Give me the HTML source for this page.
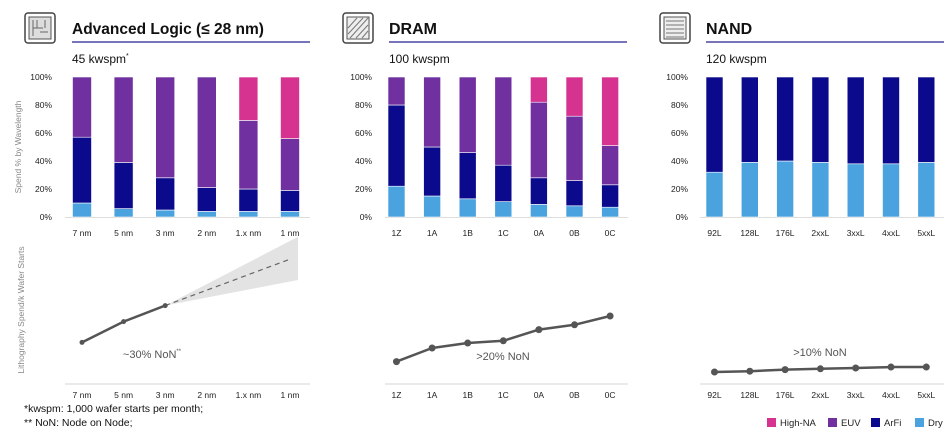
<!DOCTYPE html>
<html><head><meta charset="utf-8">
<style>
html,body{margin:0;padding:0;background:#fff;}
body{width:948px;height:437px;overflow:hidden;font-family:"Liberation Sans",Arial,sans-serif;}
svg text{font-family:"Liberation Sans",Arial,sans-serif;}
</style></head>
<body>
<svg id="chart" width="948" height="437" viewBox="0 0 948 437" xmlns="http://www.w3.org/2000/svg">
  <g>
    <rect x="25" y="13" width="30" height="30" rx="3" fill="none" stroke="#444" stroke-width="1.5"/>
    <rect x="29" y="17" width="22" height="22" fill="#ddd" stroke="#555" stroke-width="1"/>
    <path d="M33 20v16M37 20v8h6M40 32h8M45 20v8M33 28h4" stroke="#666" stroke-width="1" fill="none"/>
  </g>
  <g>
    <rect x="343" y="13" width="30" height="30" rx="3" fill="none" stroke="#444" stroke-width="1.5"/>
    <rect x="347" y="17" width="22" height="22" fill="#eee" stroke="#555" stroke-width="1"/>
    <path d="M348 28l9-10M348 34l15-16M350 38l18-20M356 38l12-13M362 38l6-7" stroke="#777" stroke-width="1" fill="none"/>
  </g>
  <g>
    <rect x="660" y="13" width="30" height="30" rx="3" fill="none" stroke="#444" stroke-width="1.5"/>
    <rect x="664" y="17" width="22" height="22" fill="#eee" stroke="#555" stroke-width="1"/>
    <path d="M666 21h18M666 25h18M666 29h18M666 33h18M666 37h18" stroke="#777" stroke-width="1" fill="none"/>
  </g>
  <text x="72" y="34" font-size="15.5" font-weight="bold" fill="#111">Advanced Logic (≤ 28 nm)</text>
  <line x1="72" y1="42" x2="310" y2="42" stroke="#4a47a3" stroke-width="1.5"/>
  <text x="72" y="63" font-size="12" fill="#111">45 kwspm<tspan font-size="7" dy="-5">*</tspan></text>
  <text x="389" y="34" font-size="16" font-weight="bold" fill="#111">DRAM</text>
  <line x1="389" y1="42" x2="627" y2="42" stroke="#4a47a3" stroke-width="1.5"/>
  <text x="389" y="63" font-size="12" fill="#111">100 kwspm</text>
  <text x="706" y="34" font-size="16" font-weight="bold" fill="#111">NAND</text>
  <line x1="706" y1="42" x2="944" y2="42" stroke="#4a47a3" stroke-width="1.5"/>
  <text x="706" y="63" font-size="12" fill="#111">120 kwspm</text>
  <text transform="translate(21,147) rotate(-90)" text-anchor="middle" font-size="8.5" fill="#888">Spend % by Wavelength</text>
  <text transform="translate(24,310) rotate(-90)" text-anchor="middle" font-size="8.5" fill="#888">Lithography Spend/k Wafer Starts</text>
  <text x="24" y="412" font-size="10.5" fill="#111">*kwspm: 1,000 wafer starts per month;</text>
  <text x="24" y="426" font-size="10.5" fill="#111">** NoN: Node on Node;</text>
  <g id="bars"></g>
  <g id="lines"></g>
  <g id="legend"></g>
</svg>
<script>
// Category labels
const logicCats = ["7 nm","5 nm","3 nm","2 nm","1.x nm","1 nm"];
const dramCats = ["1Z","1A","1B","1C","0A","0B","0C"];
const nandCats = ["92L","128L","176L","2xxL","3xxL","4xxL","5xxL"];
// Stacked % by wavelength
const logicDry = [10,6,5,4,4,4];
const logicArFi = [47,33,23,17,16,15];
const logicEUV = [43,61,72,79,49,37];
const logicHighNA = [0,0,0,0,31,44];
const dramDry = [22,15,13,11,9,8,7];
const dramArFi = [58,35,33,26,19,18,16];
const dramEUV = [20,50,54,63,54,46,28];
const dramHighNA = [0,0,0,0,18,28,49];
const nandDry = [32,39,40,39,38,38,39];
const nandArFi = [68,61,60,61,62,62,61];
// Relative litho spend per k wafer starts (index)
const logicSpend = [26,39,49];
const logicProjection = [49,78];
const logicConeHigh = 92;
const logicConeLow = 65;
const dramSpend = [14,22.5,25.6,27,34,37,42.5];
const nandSpend = [7.5,8,9,9.5,10,10.6,10.6];
const yTicks = [0,20,40,60,80,100];
const tickLabels = ["0%","20%","40%","60%","80%","100%"];

const NS="http://www.w3.org/2000/svg";
const COLORS={dry:"#4aa3df",arfi:"#0c0a8c",euv:"#7030a0",highna:"#d63391"};
function mk(tag,attrs,parent){const e=document.createElementNS(NS,tag);for(const k in attrs)e.setAttribute(k,attrs[k]);parent.appendChild(e);return e;}
const barsG=document.getElementById('bars'), linesG=document.getElementById('lines'), legG=document.getElementById('legend');
const barY=v=>217-v*1.4;
const lineY=v=>384-v*1.6;

const panels=[
 {name:"logic",cats:logicCats,x0:82,step:41.6,bw:19,axisX:52,lineX1:65,lineX2:310,
  series:[["dry",logicDry],["arfi",logicArFi],["euv",logicEUV],["highna",logicHighNA]],spend:logicSpend},
 {name:"dram",cats:dramCats,x0:396.5,step:35.6,bw:17,axisX:372,lineX1:385,lineX2:628,
  series:[["dry",dramDry],["arfi",dramArFi],["euv",dramEUV],["highna",dramHighNA]],spend:dramSpend},
 {name:"nand",cats:nandCats,x0:714.5,step:35.3,bw:17,axisX:688,lineX1:700,lineX2:944,
  series:[["dry",nandDry],["arfi",nandArFi]],spend:nandSpend}
];
panels.forEach(p=>{
  const xs=i=>p.x0+i*p.step;
  yTicks.forEach((t,i)=>{
    const tl=mk('text',{x:p.axisX,y:barY(t)+3,'text-anchor':'end','font-size':'8.5',fill:'#222'},barsG);
    
    
    tl.textContent=tickLabels[i];
  });
  const base=mk('line',{x1:p.lineX1,x2:p.lineX2,y1:217.5,y2:217.5,stroke:'#ddd','stroke-width':1},barsG);
  
  
  p.cats.forEach((c,i)=>{
    let acc=0;
    p.series.forEach(([k,arr])=>{
      const v=arr[i]; if(!v){return;}
      const r=mk('rect',{x:xs(i)-p.bw/2,y:barY(acc+v),width:p.bw,height:v*1.4,fill:COLORS[k],stroke:'#fff','stroke-width':0.6},barsG);
      
      
      acc+=v;
    });
    const xl=mk('text',{x:xs(i),y:236,'text-anchor':'middle','font-size':'8.5',fill:'#222'},barsG);
    
    
    xl.textContent=c;
    const xl2=mk('text',{x:xs(i),y:398,'text-anchor':'middle','font-size':'8.5',fill:'#222'},linesG);
    
    
    xl2.textContent=c;
  });
  const lb=mk('line',{x1:p.lineX1,x2:p.lineX2,y1:384,y2:384,stroke:'#ddd','stroke-width':1.2},linesG);
  
  
  if(p.name==="logic"){
    const xa=xs(2), xb=xs(5)+8;
    const cone=mk('polygon',{points:`${xa},${lineY(logicProjection[0])} ${xb},${lineY(logicConeHigh)} ${xb},${lineY(logicConeLow)}`,fill:'#e3e3e3'},linesG);
    
    
    const dl=mk('line',{x1:xa,y1:lineY(logicProjection[0]),x2:xs(5),y2:lineY(logicProjection[1]),stroke:'#666','stroke-width':1.2,'stroke-dasharray':'5,4'},linesG);
    
    
  }
  const pts=p.spend.map((v,i)=>xs(i)+','+lineY(v)).join(' ');
  const pl=mk('polyline',{points:pts,fill:'none',stroke:'#555','stroke-width':2.5,'stroke-linejoin':'round'},linesG);
  
  
  p.spend.forEach((v,i)=>{
    const c=mk('circle',{cx:xs(i),cy:lineY(v),r:p.name==="logic"?2.5:3.5,fill:'#555'},linesG);
    
    
  });
});
function label(x,y,txt,name,sup){
  const t=mk('text',{x:x,y:y,'text-anchor':'middle','font-size':'11',fill:'#555'},linesG);
  
  
  t.textContent=txt;
  if(sup){const s=mk('tspan',{'font-size':'6',dy:'-5'},t);s.textContent=sup;}
}
label(152,358,"~30% NoN","logic-non-label","**");
label(503,360,">20% NoN","dram-non-label");
label(820,356,">10% NoN","nand-non-label");
const legItems=[["High-NA","highna",767],["EUV","euv",828],["ArFi","arfi",871],["Dry","dry",915]];
legItems.forEach(([t,k,x])=>{
  const r=mk('rect',{x:x,y:418,width:9,height:9,fill:COLORS[k]},legG);
  
  
  const tx=mk('text',{x:x+13,y:426,'font-size':'9.5',fill:'#222'},legG);
  
  
  tx.textContent=t;
});
</script>
</body></html>
